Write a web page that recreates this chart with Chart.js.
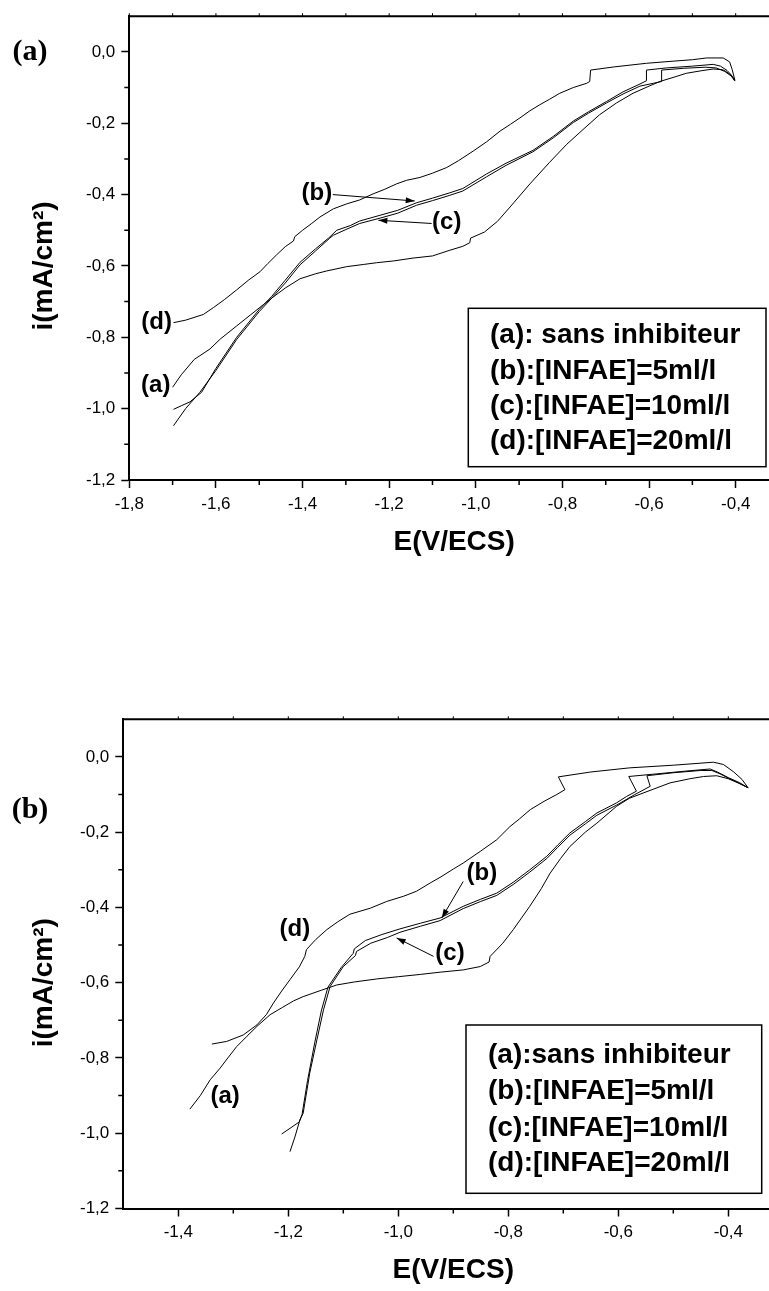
<!DOCTYPE html>
<html>
<head>
<meta charset="utf-8">
<script src="https://cdn.jsdelivr.net/npm/chart.js@4.4.1/dist/chart.umd.min.js"></script>
<style>
  html, body { margin: 0; padding: 0; background: #fff; overflow: hidden; width: 769px; height: 1291px; }
  canvas { position: absolute; left: 0; }
  #chartA { top: 0; }
  #chartB { top: 650px; }
</style>
</head>
<body>
<canvas id="chartA" width="790" height="600"></canvas>
<canvas id="chartB" width="790" height="641"></canvas>
<script>
// ---- Panel (a): cathodic polarisation curves, E (V/ECS) vs i (mA/cm²) ----
const panelA_sansInhibiteur = [
  [-1.700,-0.940],[-1.680,-0.905],[-1.650,-0.862],[-1.614,-0.833],[-1.590,-0.805],[-1.552,-0.768],
  [-1.520,-0.737],[-1.490,-0.708],[-1.471,-0.690],[-1.440,-0.662],[-1.406,-0.636],[-1.370,-0.622],
  [-1.344,-0.614],[-1.298,-0.602],[-1.260,-0.596],[-1.229,-0.591],[-1.190,-0.586],[-1.145,-0.578],
  [-1.100,-0.572],[-1.060,-0.556],[-1.030,-0.545],[-1.014,-0.535],[-1.012,-0.522],[-0.980,-0.505],
  [-0.950,-0.475],[-0.921,-0.435],[-0.875,-0.370],[-0.830,-0.310],[-0.790,-0.259],[-0.750,-0.215],
  [-0.714,-0.176],[-0.675,-0.143],[-0.637,-0.116],[-0.600,-0.096],[-0.575,-0.083],[-0.540,-0.070],
  [-0.514,-0.060],[-0.480,-0.053],[-0.452,-0.048],[-0.430,-0.050],[-0.421,-0.056],[-0.410,-0.066],
  [-0.402,-0.080]
];
const panelA_infae5 = [
  [-1.698,-1.002],[-1.680,-0.992],[-1.660,-0.981],[-1.633,-0.954],[-1.600,-0.887],[-1.552,-0.800],
  [-1.500,-0.722],[-1.471,-0.685],[-1.440,-0.640],[-1.406,-0.590],[-1.370,-0.552],[-1.340,-0.522],
  [-1.321,-0.500],[-1.290,-0.487],[-1.268,-0.474],[-1.221,-0.458],[-1.180,-0.444],[-1.137,-0.423],
  [-1.100,-0.410],[-1.060,-0.395],[-1.030,-0.383],[-0.975,-0.342],[-0.930,-0.312],[-0.868,-0.276],
  [-0.820,-0.236],[-0.775,-0.194],[-0.740,-0.168],[-0.698,-0.139],[-0.660,-0.112],[-0.621,-0.090],
  [-0.606,-0.081],[-0.606,-0.051],[-0.560,-0.045],[-0.500,-0.040],[-0.452,-0.035],[-0.435,-0.040],
  [-0.420,-0.052],[-0.410,-0.065],[-0.402,-0.080]
];
const panelA_infae10 = [
  [-1.698,-1.048],[-1.670,-1.000],[-1.637,-0.954],[-1.600,-0.893],[-1.552,-0.806],[-1.500,-0.728],
  [-1.471,-0.690],[-1.440,-0.648],[-1.406,-0.597],[-1.370,-0.558],[-1.337,-0.522],[-1.329,-0.514],
  [-1.300,-0.498],[-1.268,-0.481],[-1.221,-0.466],[-1.180,-0.452],[-1.137,-0.430],[-1.100,-0.417],
  [-1.060,-0.402],[-1.030,-0.390],[-0.975,-0.350],[-0.930,-0.318],[-0.868,-0.280],[-0.820,-0.240],
  [-0.775,-0.198],[-0.740,-0.172],[-0.698,-0.143],[-0.660,-0.118],[-0.621,-0.096],[-0.590,-0.088],
  [-0.571,-0.083],[-0.571,-0.051],[-0.520,-0.046],[-0.470,-0.043],[-0.445,-0.045],[-0.425,-0.055],
  [-0.410,-0.068],[-0.402,-0.082]
];
const panelA_infae20 = [
  [-1.698,-0.759],[-1.670,-0.752],[-1.629,-0.736],[-1.606,-0.717],[-1.580,-0.694],[-1.552,-0.667],
  [-1.525,-0.640],[-1.498,-0.616],[-1.480,-0.593],[-1.460,-0.569],[-1.440,-0.546],[-1.421,-0.530],
  [-1.418,-0.518],[-1.400,-0.500],[-1.380,-0.482],[-1.360,-0.463],[-1.329,-0.440],[-1.298,-0.426],
  [-1.268,-0.415],[-1.237,-0.398],[-1.210,-0.385],[-1.183,-0.370],[-1.160,-0.360],[-1.129,-0.352],
  [-1.100,-0.340],[-1.067,-0.324],[-1.040,-0.305],[-1.006,-0.278],[-0.975,-0.252],[-0.944,-0.222],
  [-0.920,-0.203],[-0.898,-0.185],[-0.875,-0.165],[-0.852,-0.148],[-0.830,-0.133],[-0.806,-0.116],
  [-0.775,-0.100],[-0.744,-0.088],[-0.737,-0.083],[-0.735,-0.051],[-0.680,-0.042],[-0.606,-0.032],
  [-0.544,-0.026],[-0.500,-0.022],[-0.467,-0.017],[-0.429,-0.017],[-0.414,-0.028],[-0.408,-0.050],
  [-0.402,-0.079]
];

// ---- Panel (b) ----
const panelB_sansInhibiteur = [
  [-1.379,-0.936],[-1.360,-0.900],[-1.342,-0.858],[-1.324,-0.827],[-1.310,-0.800],[-1.294,-0.770],
  [-1.275,-0.742],[-1.257,-0.716],[-1.233,-0.685],[-1.210,-0.665],[-1.190,-0.648],[-1.173,-0.637],
  [-1.140,-0.620],[-1.112,-0.606],[-1.080,-0.598],[-1.039,-0.590],[-1.000,-0.584],[-0.960,-0.578],
  [-0.924,-0.572],[-0.882,-0.566],[-0.851,-0.557],[-0.835,-0.545],[-0.833,-0.530],[-0.810,-0.495],
  [-0.791,-0.459],[-0.761,-0.397],[-0.740,-0.350],[-0.724,-0.309],[-0.705,-0.270],[-0.688,-0.238],
  [-0.660,-0.200],[-0.639,-0.176],[-0.603,-0.131],[-0.580,-0.110],[-0.555,-0.096],[-0.506,-0.069],
  [-0.470,-0.058],[-0.445,-0.052],[-0.421,-0.050],[-0.400,-0.058],[-0.380,-0.070],[-0.364,-0.082]
];
const panelB_infae5 = [
  [-1.212,-1.002],[-1.195,-0.985],[-1.180,-0.970],[-1.175,-0.950],[-1.165,-0.860],[-1.152,-0.760],
  [-1.140,-0.675],[-1.128,-0.612],[-1.104,-0.560],[-1.082,-0.522],[-1.080,-0.510],[-1.060,-0.488],
  [-1.030,-0.472],[-0.997,-0.457],[-0.960,-0.442],[-0.924,-0.428],[-0.882,-0.397],[-0.850,-0.378],
  [-0.821,-0.362],[-0.790,-0.332],[-0.761,-0.300],[-0.730,-0.264],[-0.710,-0.234],[-0.688,-0.202],
  [-0.660,-0.172],[-0.639,-0.149],[-0.603,-0.122],[-0.585,-0.105],[-0.567,-0.091],[-0.581,-0.052],
  [-0.530,-0.045],[-0.480,-0.038],[-0.433,-0.032],[-0.420,-0.040],[-0.400,-0.055],[-0.380,-0.068],
  [-0.364,-0.082]
];
const panelB_infae10 = [
  [-1.197,-1.049],[-1.188,-1.010],[-1.179,-0.965],[-1.173,-0.947],[-1.161,-0.840],[-1.148,-0.752],
  [-1.136,-0.672],[-1.124,-0.610],[-1.100,-0.557],[-1.078,-0.528],[-1.076,-0.517],[-1.050,-0.495],
  [-1.020,-0.480],[-0.997,-0.466],[-0.960,-0.450],[-0.924,-0.435],[-0.882,-0.403],[-0.850,-0.384],
  [-0.821,-0.368],[-0.790,-0.338],[-0.761,-0.306],[-0.730,-0.270],[-0.710,-0.240],[-0.688,-0.208],
  [-0.660,-0.178],[-0.639,-0.155],[-0.603,-0.128],[-0.570,-0.100],[-0.542,-0.078],[-0.548,-0.050],
  [-0.500,-0.042],[-0.450,-0.036],[-0.430,-0.036],[-0.415,-0.045],[-0.395,-0.060],[-0.364,-0.082]
];
const panelB_infae20 = [
  [-1.339,-0.763],[-1.312,-0.756],[-1.282,-0.739],[-1.257,-0.712],[-1.240,-0.685],[-1.227,-0.654],
  [-1.212,-0.622],[-1.197,-0.592],[-1.180,-0.558],[-1.170,-0.530],[-1.167,-0.512],[-1.150,-0.485],
  [-1.130,-0.459],[-1.110,-0.438],[-1.088,-0.418],[-1.051,-0.402],[-1.021,-0.384],[-0.990,-0.370],
  [-0.967,-0.357],[-0.942,-0.335],[-0.924,-0.320],[-0.900,-0.298],[-0.882,-0.282],[-0.850,-0.250],
  [-0.821,-0.220],[-0.797,-0.185],[-0.780,-0.165],[-0.760,-0.140],[-0.735,-0.118],[-0.712,-0.100],
  [-0.697,-0.087],[-0.709,-0.053],[-0.650,-0.040],[-0.579,-0.029],[-0.500,-0.022],[-0.427,-0.014],
  [-0.409,-0.020],[-0.390,-0.040],[-0.375,-0.060],[-0.364,-0.082]
];

// ---- Axis ticks ----
const xTicksA = [-1.8,-1.6,-1.4,-1.2,-1.0,-0.8,-0.6,-0.4];
const xMinorA = [-1.7,-1.5,-1.3,-1.1,-0.9,-0.7,-0.5];
const xTicksB = [-1.4,-1.2,-1.0,-0.8,-0.6,-0.4];
const xMinorB = [-1.3,-1.1,-0.9,-0.7,-0.5];
const yTicks = [0.0,-0.2,-0.4,-0.6,-0.8,-1.0,-1.2];
const yMinor = [-0.1,-0.3,-0.5,-0.7,-0.9,-1.1];

// ---- Texts ----
const xTitle = 'E(V/ECS)';
const yTitle = 'i(mA/cm²)';
const legendLinesA = ['(a): sans inhibiteur','(b):[INFAE]=5ml/l','(c):[INFAE]=10ml/l','(d):[INFAE]=20ml/l'];
const legendLinesB = ['(a):sans inhibiteur','(b):[INFAE]=5ml/l','(c):[INFAE]=10ml/l','(d):[INFAE]=20ml/l'];

const SANS = '"Liberation Sans", Arial, sans-serif';
const SERIF = '"Liberation Serif", "Times New Roman", serif';

const fmt = v => (Math.abs(v) < 1e-9 ? '0,0' : v.toFixed(1).replace('.', ','));
const toXY = arr => arr.map(p => ({ x: p[0], y: p[1] }));

function curve(data) {
  return {
    data: toXY(data), showLine: true, borderColor: '#000', borderWidth: 1,
    pointRadius: 0, pointHoverRadius: 0, fill: false, tension: 0
  };
}

// Decorations: top frame, minor ticks, titles, panel letter, legend box, curve labels and arrows
function decor(o) {
  return {
    id: 'decor',
    afterDraw(chart) {
      const { ctx, chartArea: ca } = chart;
      const sx = chart.scales.x, sy = chart.scales.y;
      const px = v => sx.getPixelForValue(v), py = v => sy.getPixelForValue(v);
      ctx.save();
      ctx.strokeStyle = '#000'; ctx.fillStyle = '#000';
      // top frame
      ctx.lineWidth = 2;
      ctx.beginPath(); ctx.moveTo(ca.left - 1, ca.top); ctx.lineTo(ca.right, ca.top); ctx.stroke();
      // minor ticks
      ctx.lineWidth = 1.5;
      ctx.beginPath();
      o.xMinor.forEach(v => { const X = px(v); ctx.moveTo(X, ca.bottom); ctx.lineTo(X, ca.bottom + 5); });
      o.yMinor.forEach(v => { const Y = py(v); ctx.moveTo(ca.left, Y); ctx.lineTo(ca.left - 5, Y); });
      ctx.stroke();
      // small ticks on the top frame
      ctx.lineWidth = 1;
      ctx.beginPath();
      o.xMajor.concat(o.xMinor).forEach(v => { const X = px(v); ctx.moveTo(X, ca.top); ctx.lineTo(X, ca.top - 3); });
      ctx.stroke();

      // axis titles
      ctx.font = 'bold 28px ' + SANS;
      ctx.textAlign = 'center'; ctx.textBaseline = 'middle';
      ctx.fillText(xTitle, (ca.left + ca.right) / 2, ca.bottom + 62);
      ctx.save();
      ctx.translate(o.yTitleX, py(-0.6));
      ctx.rotate(-Math.PI / 2);
      ctx.fillText(yTitle, 0, 0);
      ctx.restore();

      // panel letter
      ctx.font = 'bold 30px ' + SERIF;
      ctx.fillText(o.panel, o.panelPos[0], o.panelPos[1]);

      // legend box
      const b = o.legendBox;
      ctx.lineWidth = 1.5;
      ctx.strokeRect(b[0], b[1], b[2] - b[0], b[3] - b[1]);
      ctx.font = 'bold 28px ' + SANS;
      ctx.textAlign = 'left';
      o.legendLines.forEach((t, i) => ctx.fillText(t, o.legendTextX, o.legendTextY[i]));

      // curve labels
      ctx.font = 'bold 24px ' + SANS;
      ctx.textAlign = 'center';
      o.labels.forEach(l => ctx.fillText(l.t, px(l.x), py(l.y)));

      // arrows
      ctx.lineWidth = 1;
      o.arrows.forEach(a => {
        const x1 = px(a.from[0]), y1 = py(a.from[1]), x2 = px(a.to[0]), y2 = py(a.to[1]);
        ctx.beginPath(); ctx.moveTo(x1, y1); ctx.lineTo(x2, y2); ctx.stroke();
        const ang = Math.atan2(y2 - y1, x2 - x1), L = 9, W = 3;
        ctx.beginPath();
        ctx.moveTo(x2, y2);
        ctx.lineTo(x2 - L * Math.cos(ang) + W * Math.sin(ang), y2 - L * Math.sin(ang) - W * Math.cos(ang));
        ctx.lineTo(x2 - L * Math.cos(ang) - W * Math.sin(ang), y2 - L * Math.sin(ang) + W * Math.cos(ang));
        ctx.closePath(); ctx.fill();
      });
      ctx.restore();
    }
  };
}

function makeChart(id, cfg) {
  const axisCommon = {
    type: 'linear',
    border: { display: true, color: '#000', width: 2 },
    grid: { display: true, drawOnChartArea: false, drawTicks: true, tickLength: 8, tickWidth: 1.5, tickColor: '#000' },
    title: { display: false }
  };
  return new Chart(document.getElementById(id), {
    type: 'scatter',
    data: { datasets: cfg.series.map(curve) },
    options: {
      responsive: false, animation: false, devicePixelRatio: 1,
      layout: { padding: { top: cfg.padTop, right: cfg.padRight, left: 0, bottom: 0 } },
      plugins: { legend: { display: false }, tooltip: { enabled: false } },
      scales: {
        x: Object.assign({}, axisCommon, {
          min: cfg.xMin, max: cfg.xMax,
          afterBuildTicks: s => { s.ticks = cfg.xTicks.map(v => ({ value: v })); },
          afterFit: s => { s.height = cfg.xAxisHeight; },
          ticks: { padding: 6, color: '#000', font: { family: SANS, size: 17 }, maxRotation: 0, autoSkip: false, callback: v => fmt(v) }
        }),
        y: Object.assign({}, axisCommon, {
          min: -1.2, max: 0.1,
          afterBuildTicks: s => { s.ticks = yTicks.map(v => ({ value: v })); },
          afterFit: s => { s.width = cfg.yAxisWidth; },
          ticks: { padding: 6, color: '#000', font: { family: SANS, size: 17 }, autoSkip: false, callback: v => fmt(v) }
        })
      }
    },
    plugins: [decor(cfg.decor)]
  });
}

makeChart('chartA', {
  series: [panelA_sansInhibiteur, panelA_infae5, panelA_infae10, panelA_infae20],
  xMin: -1.8, xMax: -0.3, xTicks: xTicksA,
  padTop: 10.7, padRight: 11, xAxisHeight: 120, yAxisWidth: 129.3,
  decor: {
    xMajor: xTicksA, xMinor: xMinorA, yMinor: yMinor,
    yTitleX: 44, panel: '(a)', panelPos: [30, 52],
    legendBox: [468.3, 308.3, 766, 466.7], legendLines: legendLinesA,
    legendTextX: 490, legendTextY: [335, 371.7, 406.7, 441.7],
    labels: [
      { t: '(b)', x: -1.367, y: -0.398 }, { t: '(c)', x: -1.067, y: -0.477 },
      { t: '(d)', x: -1.737, y: -0.759 }, { t: '(a)', x: -1.739, y: -0.935 }
    ],
    arrows: [
      { from: [-1.330, -0.400], to: [-1.141, -0.418] },
      { from: [-1.102, -0.481], to: [-1.225, -0.472] }
    ]
  }
});

makeChart('chartB', {
  series: [panelB_sansInhibiteur, panelB_infae5, panelB_infae10, panelB_infae20],
  xMin: -1.5, xMax: -0.3, xTicks: xTicksB,
  padTop: 69.3, padRight: 6.7, xAxisHeight: 82.5, yAxisWidth: 123.3,
  decor: {
    xMajor: xTicksB, xMinor: xMinorB, yMinor: yMinor,
    yTitleX: 44, panel: '(b)', panelPos: [30, 160],
    legendBox: [466, 375, 761.7, 543.3], legendLines: legendLinesB,
    legendTextX: 488, legendTextY: [405, 441.7, 478.3, 513.3],
    labels: [
      { t: '(d)', x: -1.188, y: -0.459 }, { t: '(b)', x: -0.848, y: -0.309 },
      { t: '(c)', x: -0.906, y: -0.521 }, { t: '(a)', x: -1.315, y: -0.903 }
    ],
    arrows: [
      { from: [-0.882, -0.331], to: [-0.921, -0.428] },
      { from: [-0.936, -0.530], to: [-1.003, -0.481] }
    ]
  }
});
</script>
</body>
</html>
